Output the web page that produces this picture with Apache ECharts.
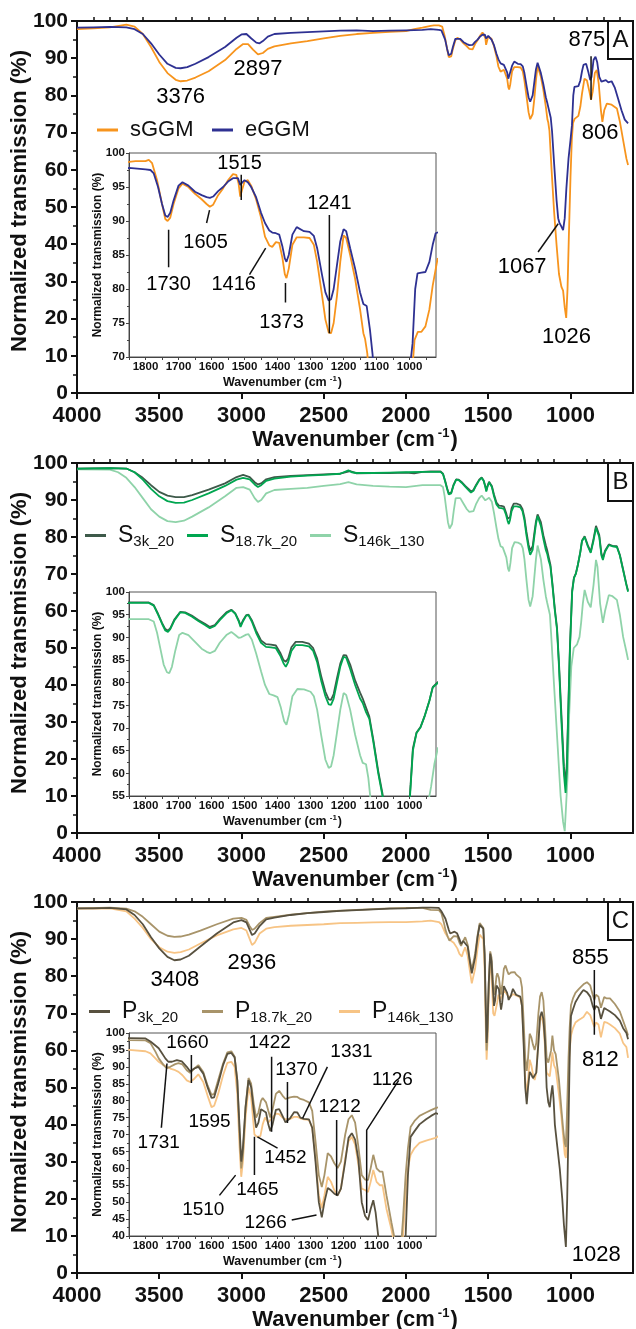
<!DOCTYPE html>
<html>
<head>
<meta charset="utf-8">
<script src="https://cdn.jsdelivr.net/npm/echarts@6/dist/echarts.min.js"></script>
<style>
html, body { margin: 0; padding: 0; background: #fff; }
#chart { width: 636px; height: 1329px; }
</style>
</head>
<body>
<div id="chart"></div>
<script>
// ---- data: [wavenumber (cm-1), normalized transmission (%)] ----
const sGGM = [[4000,97.8],[3900,98.0],[3800,98.3],[3700,99.0],[3650,98.5],[3600,96.5],[3550,93.0],[3500,89.0],[3450,86.0],[3400,84.2],[3370,83.8],[3330,84.0],[3280,84.8],[3200,86.5],[3100,89.5],[3030,92.5],[2990,93.8],[2960,93.8],[2930,92.3],[2900,91.0],[2870,91.4],[2840,92.5],[2800,93.2],[2700,94.0],[2600,94.6],[2500,95.3],[2400,96.0],[2300,96.5],[2200,96.8],[2100,97.1],[2000,97.3],[1950,97.8],[1900,98.2],[1850,98.7],[1830,98.8],[1800,98.8],[1790,99.0],[1780,98.5],[1765,96.0],[1750,92.5],[1740,90.3],[1733,90.0],[1725,90.5],[1715,92.5],[1700,94.8],[1688,95.5],[1670,95.0],[1650,94.0],[1630,93.2],[1615,92.5],[1605,92.1],[1595,92.4],[1580,93.8],[1565,94.8],[1550,96.0],[1535,96.9],[1525,96.8],[1518,95.5],[1513,93.6],[1508,94.5],[1500,95.8],[1490,96.0],[1480,95.2],[1465,93.2],[1450,90.5],[1438,87.7],[1425,86.4],[1416,86.2],[1405,86.9],[1395,86.8],[1385,84.5],[1378,82.2],[1373,81.6],[1366,83.0],[1355,86.5],[1342,87.6],[1320,87.6],[1303,87.5],[1290,86.5],[1280,84.0],[1265,79.0],[1255,75.5],[1245,73.6],[1238,73.5],[1230,75.0],[1220,79.0],[1210,84.0],[1200,87.9],[1192,87.5],[1180,85.0],[1165,81.5],[1150,77.0],[1140,73.5],[1135,72.7],[1128,70.5],[1115,60.0],[1100,49.0],[1085,40.0],[1070,32.0],[1055,28.5],[1045,27.5],[1035,23.0],[1026,20.2],[1018,28.0],[1010,42.0],[1000,58.0],[992,68.0],[985,72.5],[975,73.7],[964,73.7],[952,74.5],[940,77.0],[930,80.5],[915,84.5],[900,84.0],[885,81.0],[875,78.8],[865,81.0],[852,86.0],[840,86.8],[828,83.0],[815,76.0],[806,72.9],[795,76.0],[779,77.8],[750,77.5],[718,76.5],[700,73.0],[680,68.0],[660,63.0],[650,61.3]];
const eGGM = [[4000,98.2],[3900,98.3],[3800,98.4],[3700,98.3],[3650,97.8],[3600,96.5],[3550,94.0],[3500,91.0],[3450,88.5],[3400,87.4],[3370,87.3],[3330,87.6],[3280,88.5],[3200,90.3],[3100,93.0],[3030,95.5],[3000,96.4],[2970,96.5],[2940,95.3],[2910,94.2],[2890,94.0],[2870,94.6],[2840,95.8],[2800,96.5],[2700,96.8],[2600,97.0],[2500,97.2],[2400,97.4],[2300,97.5],[2200,97.3],[2100,97.4],[2000,97.5],[1900,97.6],[1850,97.8],[1800,97.6],[1785,97.5],[1775,97.0],[1762,95.0],[1750,92.5],[1740,90.8],[1733,90.6],[1725,91.2],[1715,93.0],[1700,95.2],[1688,95.7],[1670,95.2],[1650,94.3],[1630,93.8],[1615,93.5],[1605,93.4],[1595,93.6],[1580,94.4],[1565,95.0],[1550,95.8],[1535,96.3],[1520,96.3],[1513,95.3],[1508,95.6],[1500,96.0],[1490,95.7],[1480,95.0],[1465,93.5],[1450,91.2],[1438,89.7],[1425,88.6],[1416,88.3],[1405,88.2],[1395,88.0],[1385,86.2],[1378,84.5],[1373,84.0],[1366,85.0],[1355,88.0],[1342,89.1],[1320,88.5],[1303,88.4],[1290,87.8],[1280,86.0],[1265,82.0],[1255,79.5],[1245,78.3],[1238,78.5],[1230,80.0],[1220,83.5],[1210,87.0],[1200,88.8],[1192,88.5],[1180,86.0],[1165,83.0],[1150,79.5],[1140,77.8],[1130,77.5],[1120,74.0],[1112,70.3],[1100,62.0],[1085,52.0],[1075,47.0],[1067,45.7],[1058,45.0],[1045,43.8],[1035,47.0],[1025,55.0],[1012,63.0],[1000,68.0],[991,72.0],[983,80.0],[976,82.3],[964,82.4],[952,82.5],[940,84.0],[930,86.5],[921,88.2],[905,88.5],[890,86.0],[880,84.1],[872,85.0],[860,89.5],[848,90.4],[838,89.0],[825,85.0],[812,83.7],[800,83.8],[785,84.1],[770,83.5],[750,83.8],[730,82.0],[710,79.0],[690,76.0],[670,73.5],[650,72.5]];

const S3k_20 = [[4000,98.5],[3800,98.6],[3700,98.5],[3650,97.5],[3600,96.0],[3550,94.0],[3500,92.2],[3450,91.2],[3400,90.8],[3350,90.8],[3300,91.3],[3200,92.8],[3100,94.5],[3030,96.2],[2990,96.8],[2950,96.2],[2920,94.8],[2900,94.2],[2880,94.5],[2850,95.6],[2800,96.2],[2700,96.5],[2600,96.7],[2500,96.9],[2400,97.1],[2340,97.8],[2300,97.2],[2200,97.3],[2100,97.3],[2000,97.4],[1950,97.2],[1900,97.6],[1850,97.7],[1790,97.7],[1775,97.1],[1762,95.2],[1750,93.2],[1740,91.8],[1732,91.5],[1725,92.0],[1712,94.0],[1695,95.6],[1680,95.5],[1660,94.8],[1640,93.8],[1620,93.0],[1605,92.3],[1590,92.7],[1575,94.0],[1555,95.5],[1540,96.1],[1528,95.3],[1518,93.8],[1512,92.6],[1505,93.7],[1495,94.9],[1488,95.0],[1478,93.8],[1465,91.5],[1450,89.3],[1435,88.5],[1420,88.4],[1405,88.2],[1392,86.6],[1382,85.0],[1375,84.6],[1368,85.3],[1358,87.8],[1345,89.0],[1325,89.0],[1305,88.6],[1292,87.6],[1280,85.3],[1268,81.5],[1255,78.0],[1245,76.3],[1238,76.2],[1230,77.5],[1220,81.0],[1210,84.2],[1200,86.1],[1192,86.0],[1180,84.0],[1165,80.5],[1150,77.8],[1142,76.5],[1132,74.5],[1122,72.5],[1110,67.5],[1095,60.5],[1082,55.5],[1070,46.0],[1055,32.0],[1040,18.0],[1030,13.0],[1022,19.0],[1012,36.0],[1003,51.0],[997,57.5],[990,65.5],[979,69.0],[967,70.2],[955,72.5],[940,76.0],[930,79.0],[914,80.2],[895,77.8],[877,76.0],[860,79.5],[845,83.0],[836,83.5],[825,80.5],[812,75.5],[803,74.3],[790,76.3],[767,78.0],[745,77.6],[718,77.5],[700,75.2],[680,71.2],[660,67.2],[650,65.5]];
const S18_7k_20 = [[4000,98.5],[3800,98.6],[3700,98.5],[3650,97.5],[3600,95.5],[3550,93.0],[3500,91.0],[3450,89.7],[3400,89.2],[3350,89.3],[3300,90.0],[3200,91.8],[3100,93.8],[3030,95.5],[2990,96.0],[2950,95.6],[2920,94.2],[2900,93.5],[2880,94.0],[2850,95.2],[2800,95.8],[2700,96.3],[2600,96.6],[2500,96.8],[2400,97.1],[2350,98.0],[2330,97.5],[2300,97.3],[2200,97.3],[2100,97.4],[2000,97.5],[1900,97.6],[1850,97.6],[1790,97.6],[1775,97.0],[1762,95.0],[1750,93.0],[1740,91.5],[1732,91.2],[1725,91.8],[1712,93.8],[1695,95.5],[1680,95.4],[1660,94.6],[1640,93.6],[1620,92.7],[1605,92.0],[1590,92.5],[1575,93.8],[1555,95.3],[1540,96.0],[1528,95.2],[1518,93.6],[1512,92.3],[1505,93.5],[1495,94.8],[1488,94.9],[1478,93.5],[1465,91.0],[1450,88.8],[1435,87.9],[1420,87.8],[1405,87.6],[1392,86.0],[1382,84.3],[1375,83.5],[1368,84.5],[1358,87.0],[1345,88.3],[1325,88.3],[1305,88.0],[1292,87.0],[1280,84.5],[1268,80.5],[1255,77.0],[1245,75.2],[1238,75.1],[1230,76.5],[1220,80.0],[1210,83.5],[1200,85.7],[1192,85.5],[1180,83.0],[1165,79.5],[1150,76.5],[1142,75.5],[1132,73.5],[1122,72.0],[1110,67.0],[1095,60.0],[1082,55.0],[1070,45.0],[1055,30.0],[1040,16.0],[1030,10.8],[1022,17.0],[1012,35.0],[1003,50.0],[997,57.0],[990,65.0],[979,68.9],[967,70.1],[955,72.5],[940,76.0],[930,78.9],[914,80.0],[895,77.5],[877,75.7],[860,79.0],[845,82.5],[836,83.0],[825,80.0],[812,75.0],[803,73.8],[790,76.0],[767,77.8],[745,77.5],[718,77.3],[700,75.0],[680,71.0],[660,67.0],[650,65.2]];
const S146k_130 = [[4000,98.3],[3800,98.2],[3750,97.5],[3700,96.0],[3650,93.5],[3600,90.5],[3550,87.5],[3500,85.5],[3450,84.3],[3400,84.0],[3350,84.4],[3300,85.5],[3200,88.0],[3100,91.0],[3030,93.3],[2990,93.5],[2950,92.8],[2920,90.5],[2900,89.5],[2880,90.0],[2850,91.8],[2800,92.7],[2700,93.0],[2600,93.3],[2500,93.8],[2400,94.3],[2350,94.8],[2300,94.2],[2200,93.8],[2100,93.6],[2000,93.5],[1900,94.0],[1850,94.0],[1790,94.0],[1775,93.5],[1765,91.0],[1755,87.5],[1745,84.0],[1735,82.3],[1728,82.1],[1720,83.5],[1710,87.0],[1698,90.5],[1688,91.0],[1670,90.5],[1650,89.0],[1630,87.5],[1615,86.8],[1605,86.5],[1590,87.0],[1575,88.8],[1555,90.5],[1540,91.2],[1528,90.5],[1518,89.9],[1510,90.0],[1495,90.6],[1488,90.7],[1478,89.5],[1465,86.5],[1450,82.5],[1438,79.5],[1425,77.5],[1412,77.2],[1400,76.8],[1390,74.5],[1380,71.5],[1373,70.7],[1365,73.0],[1355,77.0],[1340,78.6],[1320,78.5],[1300,78.0],[1290,77.0],[1280,74.0],[1268,68.5],[1255,63.0],[1245,61.2],[1238,61.5],[1230,64.0],[1220,69.0],[1210,74.0],[1200,77.7],[1192,77.3],[1180,74.0],[1165,68.5],[1150,64.0],[1142,62.3],[1132,62.0],[1125,59.0],[1118,54.0],[1100,40.0],[1080,25.0],[1060,10.0],[1045,3.0],[1035,0.5],[1026,0.2],[1018,15.0],[1008,32.0],[995,45.0],[980,50.0],[960,51.0],[945,53.0],[935,57.0],[925,62.0],[914,65.7],[895,62.5],[877,61.0],[860,67.0],[845,73.8],[836,72.0],[820,62.0],[803,56.8],[790,60.0],[767,64.3],[745,64.0],[718,63.0],[700,59.0],[680,53.0],[660,49.0],[650,46.8]];

const P3k_20 = [[4000,98.3],[3900,98.3],[3800,98.4],[3700,98.0],[3650,96.5],[3600,94.0],[3550,90.5],[3500,87.5],[3450,85.2],[3408,84.3],[3370,84.5],[3320,85.5],[3250,88.0],[3150,91.5],[3050,94.5],[3000,95.1],[2970,94.5],[2950,92.5],[2936,91.1],[2920,91.5],[2890,93.5],[2850,95.3],[2800,95.8],[2700,96.5],[2600,97.0],[2500,97.3],[2400,97.6],[2300,97.8],[2200,98.0],[2100,98.2],[2000,98.3],[1900,98.5],[1850,98.5],[1800,98.4],[1785,97.5],[1770,96.3],[1760,95.5],[1750,94.0],[1740,92.5],[1731,91.5],[1720,91.5],[1705,92.0],[1690,91.6],[1675,90.0],[1665,88.7],[1660,88.5],[1652,89.5],[1640,90.0],[1625,88.0],[1612,84.0],[1600,80.8],[1592,81.0],[1580,85.0],[1565,90.5],[1552,93.8],[1540,94.1],[1530,92.8],[1522,86.0],[1515,72.0],[1510,62.0],[1505,66.0],[1497,78.0],[1488,86.1],[1480,84.0],[1472,77.0],[1465,72.0],[1458,73.5],[1450,77.5],[1445,77.8],[1435,76.5],[1428,73.0],[1422,71.0],[1415,73.0],[1405,77.3],[1395,77.5],[1385,75.5],[1376,73.6],[1370,73.4],[1362,74.8],[1350,76.6],[1340,76.5],[1331,75.0],[1320,74.6],[1305,74.5],[1295,72.0],[1285,62.0],[1275,50.0],[1266,45.5],[1258,50.0],[1248,54.2],[1238,53.5],[1228,52.5],[1218,52.0],[1208,54.0],[1195,62.0],[1185,69.0],[1175,70.4],[1165,68.5],[1155,62.5],[1145,50.0],[1135,46.0],[1126,44.7],[1118,48.0],[1110,50.6],[1103,47.0],[1095,40.0],[1080,34.0],[1065,28.0],[1050,20.0],[1040,13.0],[1028,7.0],[1020,20.0],[1012,40.0],[1005,58.0],[997,69.3],[985,71.0],[970,73.0],[950,74.5],[935,75.5],[921,76.3],[900,75.7],[880,74.5],[865,72.0],[855,70.9],[845,72.0],[830,71.5],[815,68.5],[808,69.0],[795,71.4],[780,71.0],[760,70.5],[730,69.5],[700,68.0],[680,66.0],[660,64.7],[650,63.0]];
const P18_7k_20 = [[4000,98.3],[3800,98.5],[3700,98.2],[3650,97.5],[3600,96.0],[3550,94.0],[3500,92.0],[3450,90.9],[3408,90.6],[3370,90.7],[3320,91.2],[3250,92.3],[3150,94.0],[3050,95.5],[3000,95.7],[2970,95.2],[2950,93.5],[2936,92.5],[2920,92.8],[2890,94.3],[2850,95.7],[2800,96.0],[2700,96.6],[2600,97.0],[2500,97.4],[2400,97.7],[2300,97.9],[2200,98.1],[2100,98.3],[2000,98.4],[1900,98.4],[1850,97.9],[1800,97.8],[1785,97.0],[1770,94.5],[1760,92.5],[1745,90.5],[1736,89.6],[1725,90.0],[1710,90.8],[1700,91.1],[1688,90.7],[1675,89.0],[1665,88.2],[1660,88.0],[1652,89.5],[1640,90.5],[1625,88.5],[1612,84.5],[1600,81.7],[1592,82.0],[1580,86.0],[1565,91.0],[1552,94.3],[1540,94.6],[1530,93.0],[1522,86.0],[1515,70.0],[1510,60.0],[1505,64.0],[1497,78.0],[1488,86.7],[1480,85.0],[1472,79.0],[1465,75.0],[1458,76.5],[1450,80.0],[1445,80.8],[1435,79.5],[1428,77.0],[1422,75.0],[1415,77.5],[1405,82.0],[1395,82.9],[1385,81.5],[1376,80.5],[1370,80.3],[1362,81.0],[1350,81.2],[1340,81.1],[1331,80.5],[1320,80.2],[1305,79.5],[1295,77.0],[1285,68.0],[1275,58.0],[1266,54.5],[1258,58.0],[1248,64.5],[1238,63.5],[1228,61.5],[1218,60.1],[1208,62.0],[1195,70.0],[1185,74.5],[1175,75.7],[1165,73.5],[1155,66.3],[1145,58.0],[1135,56.7],[1126,56.5],[1118,60.0],[1110,64.0],[1100,60.0],[1090,59.0],[1082,59.0],[1070,52.0],[1055,44.0],[1045,39.0],[1035,35.0],[1028,34.0],[1020,45.0],[1012,58.0],[1005,66.0],[997,72.2],[985,74.0],[970,75.5],[950,76.5],[935,77.2],[921,77.8],[900,78.4],[880,77.5],[865,75.0],[855,73.6],[845,75.0],[830,74.5],[815,71.5],[808,72.0],[795,74.4],[780,74.0],[760,74.0],[730,72.5],[700,70.5],[680,68.0],[660,65.5],[650,64.0]];
const P146k_130 = [[4000,98.2],[3800,98.3],[3700,97.5],[3650,95.5],[3600,93.0],[3550,90.0],[3500,87.8],[3450,86.6],[3408,86.3],[3370,86.5],[3320,87.2],[3250,88.8],[3150,91.0],[3050,92.6],[3000,93.0],[2970,92.3],[2950,90.0],[2936,88.4],[2920,89.0],[2890,91.5],[2850,92.8],[2800,93.2],[2700,93.6],[2600,93.8],[2500,94.0],[2400,94.3],[2300,94.4],[2200,94.5],[2100,94.6],[2000,94.6],[1900,94.8],[1850,95.0],[1800,94.6],[1785,94.0],[1770,92.5],[1760,91.5],[1745,90.5],[1736,90.0],[1725,89.5],[1710,89.0],[1700,88.5],[1688,87.5],[1675,86.0],[1665,85.5],[1660,85.3],[1652,86.5],[1640,87.8],[1625,85.5],[1612,81.5],[1600,78.1],[1592,78.5],[1580,82.0],[1565,87.5],[1552,91.2],[1540,91.5],[1530,90.0],[1522,82.0],[1515,66.0],[1510,57.5],[1505,62.0],[1497,75.0],[1488,84.0],[1480,81.0],[1470,70.0],[1462,69.3],[1452,69.5],[1445,73.0],[1438,75.0],[1428,73.5],[1422,74.3],[1415,75.0],[1405,76.2],[1395,76.0],[1385,75.0],[1376,74.5],[1370,74.3],[1362,74.6],[1350,75.2],[1340,75.2],[1331,74.8],[1320,74.5],[1305,74.3],[1295,72.0],[1285,63.0],[1275,52.0],[1266,48.2],[1258,52.0],[1248,57.5],[1238,56.0],[1228,53.5],[1218,52.0],[1208,54.0],[1195,63.0],[1185,68.0],[1175,69.3],[1165,67.0],[1155,61.0],[1145,54.0],[1135,53.6],[1126,53.0],[1118,56.0],[1110,59.5],[1100,56.0],[1090,55.0],[1082,55.0],[1070,48.0],[1055,42.0],[1045,37.0],[1035,32.0],[1028,31.0],[1020,40.0],[1012,52.0],[1005,60.0],[997,64.0],[985,66.0],[970,67.5],[950,68.2],[935,68.6],[921,69.0],[900,70.4],[880,69.5],[865,67.5],[855,66.3],[845,67.5],[830,67.0],[815,63.5],[808,64.0],[795,67.7],[780,67.5],[760,67.0],[730,66.0],[700,64.5],[680,62.0],[660,60.9],[650,58.0]];

// tick values
const mainLabels = [1000, 1500, 2000, 2500, 3000, 3500, 4000];
const mainMinor = [700,800,900,1100,1200,1300,1400,1600,1700,1800,1900,2100,2200,2300,2400,2600,2700,2800,2900,3100,3200,3300,3400,3600,3700,3800,3900];
const insetLabels = [1000, 1100, 1200, 1300, 1400, 1500, 1600, 1700, 1800];
const insetTicks = [950,1000,1050,1100,1150,1200,1250,1300,1350,1400,1450,1500,1550,1600,1650,1700,1750,1800,1850];

// peak annotations: [text, wavenumber, transmission]
const notesA = [['3376',3370,79.5],['2897',2900,87],['875',901,95],['806',820,70],['1067',1294,34],['1026',1024,15]];
const leadersA = [[[875,90.5],[875,78.8]], [[1197,37.9],[1075,45.5]]];
const notesAin = [['1515',1515,98.5],['1241',1243,92.6],['1730',1730,80.6],['1605',1618,86.9],['1416',1533,80.6],['1373',1388,75.1]];
const leadersAin = [[[1510,96.8],[1510,93.1]], [[1243,90.9],[1243,73.5]], [[1730,88.7],[1730,83.2]], [[1606,91.6],[1615,89.7]], [[1485,82.1],[1436,86.0]], [[1376,80.9],[1376,78.0]]];
const notesC = [['3408',3405,79],['2936',2937,83.5],['855',879,85],['812',818,57.4],['1028',843,5]];
const leadersC = [[[855,81.7],[855,64.2]]];
const notesCin = [['1731',1760,67.5],['1660',1673,97],['1595',1606,73.7],['1422',1424,97],['1370',1343,89],['1331',1176,94.4],['1212',1212,78.2],['1126',1052,86.3],['1452',1376,63],['1465',1461,53.6],['1510',1625,47.7],['1266',1436,43.8]];
const leadersCin = [[[1752,72],[1735,91]], [[1661,93.5],[1661,85.2]], [[1418,93],[1418,70.8]], [[1370,85.5],[1370,73.4]], [[1249,90],[1324,74.8]], [[1221,74.3],[1221,52]], [[1033,86],[1130,71.3],[1130,46.8]], [[1461,69.3],[1400,66]], [[1470,58],[1470,69.3]], [[1576,52],[1527,58]], [[1357,44.7],[1282,46.2]]];

const font = '"Liberation Sans", Arial, sans-serif';
const ink = '#111';

const panels = [
  {
    letter: 'A', top: 21, height: 372, insetTop: 153, insetHeight: 204, insetMin: 70, legendTop: 119, legendFont: 22,
    curves: [
      {name: 'sGGM', data: sGGM, color: '#F7941D', legendLeft: 97},
      {name: 'eGGM', data: eGGM, color: '#2E3192', legendLeft: 212}
    ],
    notes: notesA, leaders: leadersA, notesIn: notesAin, leadersIn: leadersAin, noteInFont: 20
  },
  {
    letter: 'B', top: 463, height: 370, insetTop: 592, insetHeight: 204, insetMin: 55, legendTop: 524, legendFont: 23,
    curves: [
      {name: 'S146k_130', data: S146k_130, color: '#8FD3A9', legendLeft: 310},
      {name: 'S3k_20', data: S3k_20, color: '#3E5A4A', legendLeft: 85},
      {name: 'S18.7k_20', data: S18_7k_20, color: '#00A650', legendLeft: 187}
    ],
    notes: [], leaders: [], notesIn: [], leadersIn: [], noteInFont: 19
  },
  {
    letter: 'C', top: 902, height: 371, insetTop: 1033, insetHeight: 203, insetMin: 40, legendTop: 1000, legendFont: 23,
    curves: [
      {name: 'P146k_130', data: P146k_130, color: '#F7C485', legendLeft: 339},
      {name: 'P18.7k_20', data: P18_7k_20, color: '#A8946A', legendLeft: 202},
      {name: 'P3k_20', data: P3k_20, color: '#58513F', legendLeft: 89}
    ],
    notes: notesC, leaders: leadersC, notesIn: notesCin, leadersIn: leadersCin, noteInFont: 19
  }
];

const mainBox = {left: 77, width: 556};
const insetBox = {left: 129, width: 307};
const plain = v => String(v);

const grid = [], xAxis = [], yAxis = [], series = [], legend = [], graphic = [];

function noteSeries(list, xi, yi, size) {
  return {
    type: 'scatter', xAxisIndex: xi, yAxisIndex: yi, silent: true, z: 6,
    symbolSize: 0, itemStyle: {opacity: 0},
    data: list.map(n => ({name: n[0], value: [n[1], n[2]]})),
    label: {show: true, position: 'inside', formatter: '{b}', fontSize: size, fontFamily: font,
            color: '#000', opacity: 1, textBorderWidth: 0}
  };
}
function leaderSeries(list, xi, yi) {
  return {
    type: 'lines', coordinateSystem: 'cartesian2d', xAxisIndex: xi, yAxisIndex: yi, silent: true, z: 5,
    polyline: true,
    lineStyle: {color: ink, width: 1.5, opacity: 1},
    data: list.map(c => ({coords: c}))
  };
}
function legendLabel(name) {
  if (name.indexOf('_') < 0) return name;
  return '{m|' + name[0] + '}{s|' + name.slice(1) + '}';
}
function titleRich(size, supSize) {
  return {
    b: {fontSize: size, fontWeight: 'bold', fontFamily: font, fill: ink, color: ink, lineHeight: size + 4},
    sup: {fontSize: supSize, fontWeight: 'bold', fontFamily: font, fill: ink, color: ink, lineHeight: size + 4, verticalAlign: 'top', padding: [0, 1, 0, 3]}
  };
}

panels.forEach(p => {
  const gm = grid.length;
  grid.push({left: mainBox.left, width: mainBox.width, top: p.top, height: p.height, show: true, borderColor: ink, borderWidth: 2, backgroundColor: 'rgba(0,0,0,0)'});
  const gi = grid.length;
  grid.push({left: insetBox.left, width: insetBox.width, top: p.insetTop, height: p.insetHeight, show: true, borderColor: '#555', borderWidth: 1, backgroundColor: '#fff'});

  const xm = xAxis.length;
  xAxis.push({
    type: 'value', gridIndex: gm, min: 620, max: 4000, inverse: true,
    axisLine: {lineStyle: {color: ink, width: 2}},
    axisTick: {customValues: mainLabels, length: 6, lineStyle: {color: ink, width: 2}},
    axisLabel: {customValues: mainLabels, formatter: plain, fontSize: 22, fontWeight: 'bold', fontFamily: font, color: ink, margin: 12},
    splitLine: {show: false}
  });
  xAxis.push({
    type: 'value', gridIndex: gm, min: 620, max: 4000, inverse: true,
    axisLine: {show: false},
    axisTick: {customValues: mainMinor, length: 4, lineStyle: {color: ink, width: 1.5}},
    axisLabel: {show: false}, splitLine: {show: false}
  });
  const xi = xAxis.length;
  xAxis.push({
    type: 'value', gridIndex: gi, min: 920, max: 1850, inverse: true,
    axisLine: {lineStyle: {color: '#444', width: 1}},
    axisTick: {customValues: insetTicks, length: 3, lineStyle: {color: '#444'}},
    axisLabel: {customValues: insetLabels, formatter: plain, fontSize: 11.5, fontWeight: 'bold', fontFamily: font, color: ink, margin: 4},
    splitLine: {show: false}
  });

  const ym = yAxis.length;
  yAxis.push({
    type: 'value', gridIndex: gm, min: 0, max: 100, interval: 10,
    axisLine: {show: true, lineStyle: {color: ink, width: 2}},
    axisTick: {show: true, length: 6, lineStyle: {color: ink, width: 2}},
    minorTick: {show: true, splitNumber: 2, length: 4, lineStyle: {color: ink, width: 1.5}},
    axisLabel: {formatter: plain, fontSize: 21, fontWeight: 'bold', fontFamily: font, color: ink, margin: 9},
    splitLine: {show: false}, minorSplitLine: {show: false}
  });
  const yi = yAxis.length;
  yAxis.push({
    type: 'value', gridIndex: gi, min: p.insetMin, max: 100, interval: 5,
    axisLine: {show: true, lineStyle: {color: '#444', width: 1}},
    axisTick: {show: true, length: 3, lineStyle: {color: '#444'}},
    minorTick: {show: true, splitNumber: 2, length: 2, lineStyle: {color: '#444'}},
    axisLabel: {formatter: plain, fontSize: 11.5, fontWeight: 'bold', fontFamily: font, color: ink, margin: 4},
    splitLine: {show: false}, minorSplitLine: {show: false}
  });

  p.curves.forEach(c => {
    const base = {
      type: 'line', name: c.name, data: c.data, showSymbol: false, symbol: 'none', silent: true,
      clip: true, z: 3, lineStyle: {color: c.color, width: 1.8}, itemStyle: {color: c.color}
    };
    series.push(Object.assign({}, base, {xAxisIndex: xm, yAxisIndex: ym}));
    series.push(Object.assign({}, base, {xAxisIndex: xi, yAxisIndex: yi}));
    legend.push({
      data: [c.name], left: c.legendLeft, top: p.legendTop, padding: 0, selectedMode: false,
      icon: 'rect', itemWidth: 21, itemHeight: 3,
      formatter: legendLabel,
      textStyle: {
        fontSize: p.legendFont, fontFamily: font, color: ink, padding: [0, 0, 0, 7],
        rich: {
          m: {fontSize: p.legendFont, fontFamily: font, color: ink, lineHeight: 28},
          s: {fontSize: 15, fontFamily: font, color: ink, lineHeight: 28, verticalAlign: 'bottom'}
        }
      }
    });
  });

  if (p.leaders.length) series.push(leaderSeries(p.leaders, xm, ym));
  if (p.notes.length) series.push(noteSeries(p.notes, xm, ym, 22));
  if (p.leadersIn.length) series.push(leaderSeries(p.leadersIn, xi, yi));
  if (p.notesIn.length) series.push(noteSeries(p.notesIn, xi, yi, p.noteInFont));

  // panel letter box
  graphic.push({type: 'rect', z: 20, shape: {x: 608, y: p.top, width: 25, height: 38}, style: {fill: '#fff', stroke: ink, lineWidth: 2}});
  graphic.push({type: 'text', z: 21, x: 620.5, y: p.top + 19, style: {text: p.letter, font: '24px ' + font, fill: ink, align: 'center', verticalAlign: 'middle', textAlign: 'center', textVerticalAlign: 'middle'}});
  // axis titles
  graphic.push({type: 'text', z: 20, x: 20, y: p.top + 180, rotation: Math.PI / 2,
    style: {text: 'Normalized transmission (%)', font: 'bold 22px ' + font, fill: ink, align: 'center', verticalAlign: 'middle', textAlign: 'center', textVerticalAlign: 'middle'}});
  graphic.push({type: 'text', z: 20, x: mainBox.left + mainBox.width / 2, y: p.top + p.height + 47,
    style: {text: '{b|Wavenumber (cm}{sup|-1}{b|)}', rich: titleRich(22, 13), align: 'center', verticalAlign: 'middle', textAlign: 'center', textVerticalAlign: 'middle'}});
  graphic.push({type: 'text', z: 20, x: 98, y: p.insetTop + p.insetHeight / 2, rotation: Math.PI / 2,
    style: {text: 'Normalized transmission (%)', font: 'bold 12px ' + font, fill: ink, align: 'center', verticalAlign: 'middle', textAlign: 'center', textVerticalAlign: 'middle'}});
  graphic.push({type: 'text', z: 20, x: insetBox.left + insetBox.width / 2, y: p.insetTop + p.insetHeight + 26,
    style: {text: '{b|Wavenumber (cm}{sup|-1}{b|)}', rich: titleRich(12.5, 8), align: 'center', verticalAlign: 'middle', textAlign: 'center', textVerticalAlign: 'middle'}});
});

const chart = echarts.init(document.getElementById('chart'));
chart.setOption({
  animation: false,
  backgroundColor: '#fff',
  textStyle: {fontFamily: font},
  grid, xAxis, yAxis, series, legend, graphic
});
</script>
</body>
</html>
